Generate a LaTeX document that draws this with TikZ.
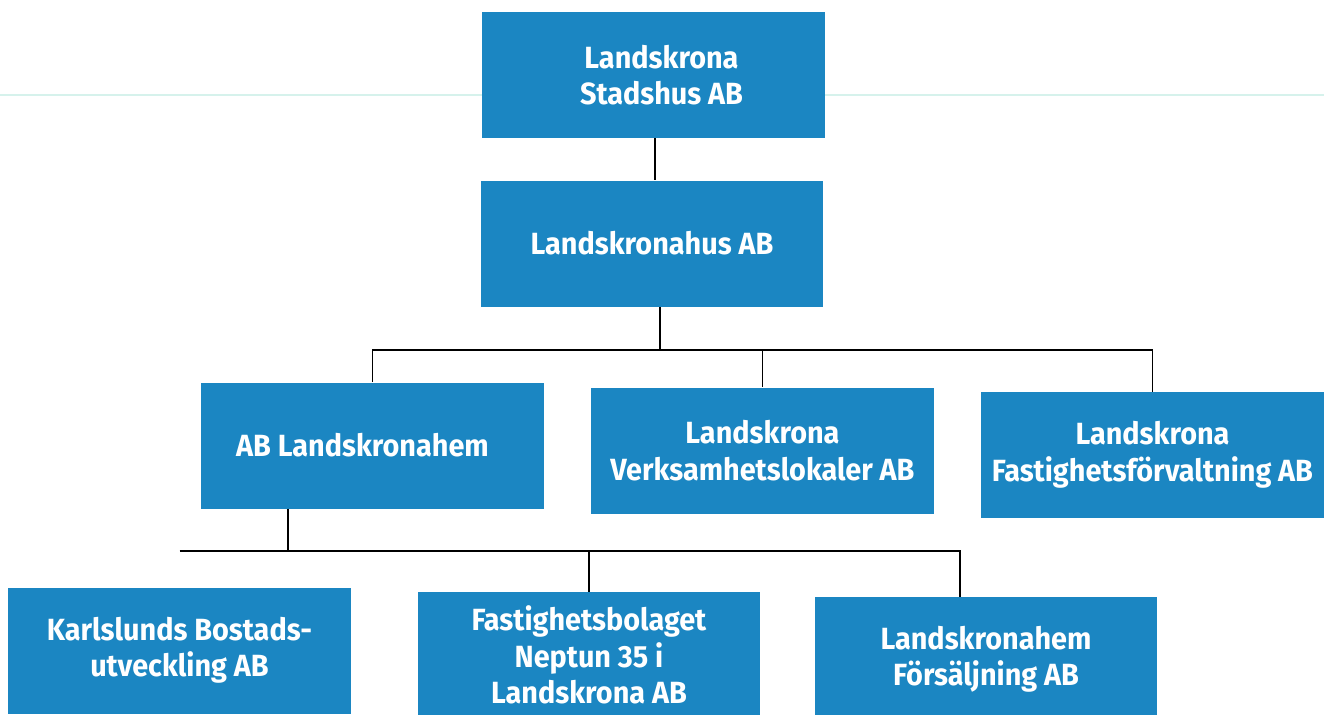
\documentclass[tikz,border=0pt]{standalone}
\usepackage{fontspec}
\setmainfont{Fira Sans}[FakeStretch=0.94]
\definecolor{boxblue}{RGB}{27,134,194}
\definecolor{scanline}{RGB}{214,242,236}
\newcommand{\liftlines}[1]{\raisebox{3pt}{\begin{tabular}{@{}c@{}}#1\end{tabular}}}
\begin{document}
\begin{tikzpicture}[x=0.75pt,y=-0.75pt,
  orgbox/.style={fill=boxblue,draw=none,rectangle,minimum width=257pt,minimum height=94.5pt,
    text=white,align=center,inner sep=0pt,font=\fontsize{23}{27.5}\selectfont\bfseries},
  link/.style={draw=black,line width=1.3pt}]
\useasboundingbox (0,0) rectangle (1324,714);
\clip (0,0) rectangle (1324,714);
\fill[white] (0,0) rectangle (1324,714);
\draw[scanline,line width=1pt] (0,95) -- (1324,95);
\node[orgbox] (top) at (653.5,75) {\hspace*{12pt}Landskrona\\\hspace*{12pt}Stadshus AB};
\node[orgbox] (hus) at (652,243.5) {Landskronahus AB};
\node[orgbox] (hem) at (372.5,445.5) {\hspace*{-15pt}AB Landskronahem};
\node[orgbox] (verk) at (762.5,450.5) {Landskrona\\Verksamhetslokaler AB};
\node[orgbox] (fast) at (1152.5,455) {Landskrona\\Fastighetsförvaltning AB};
\node[orgbox] (karl) at (179.5,651) {\liftlines{Karlslunds Bostads-\\utveckling AB}};
\node[orgbox] (nep) at (589,655) {Fastighetsbolaget\\Neptun 35 i\\Landskrona AB};
\node[orgbox] (fors) at (986,660) {\liftlines{Landskronahem\\Försäljning AB}};
\coordinate (topdrop) at (655,0);
\coordinate (bus1) at (660,350);
\coordinate (bus2) at (288,551);
\coordinate (hemdrop) at (288,0);
\coordinate (forsdrop) at (960,0);
\draw[link] (top.south -| topdrop) -- (hus.north -| topdrop);
\draw[link] (hus.south -| bus1) -- (bus1);
\draw[link] (hem.north) -- (hem.north |- bus1) -- (fast.north |- bus1) -- (fast.north);
\draw[link] (verk.north |- bus1) -- (verk.north);
\draw[link] (hem.south -| hemdrop) -- (bus2);
\draw[link] (karl.north |- bus2) -- (forsdrop |- bus2) -- (forsdrop |- fors.north);
\draw[link] (nep.north |- bus2) -- (nep.north);
\end{tikzpicture}
\end{document}
